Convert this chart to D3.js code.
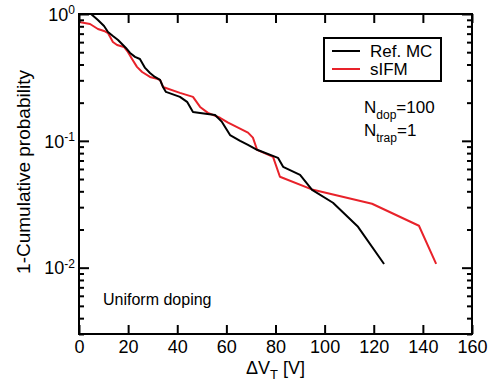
<!DOCTYPE html>
<html>
<head>
<meta charset="utf-8">
<script src="https://cdn.jsdelivr.net/npm/d3@7"></script>
<style>
  body { margin: 0; background: #fff; }
  text { font-family: "Liberation Sans", Arial, Helvetica, sans-serif; }
</style>
</head>
<body>
<div id="chart"></div>
<script>
// Ref. MC curve (deltaVT [V], 1-cumulative probability)
const refMcX = [4.9, 7.7, 10.2, 11.8, 13.8, 15.9, 17.5, 19.1, 20.8, 22.8, 24.8, 26.9, 28.9, 30.9, 33.0, 34.2, 35.4,
  41.1, 44.0, 46.4, 49.3, 55.4, 58.2, 61.5, 65.6, 68.8, 72.5, 81.0, 83.1, 90.0, 94.9, 103.4, 113.6, 124.2];
const refMcY = [1.0, 0.897, 0.804, 0.722, 0.671, 0.624, 0.580, 0.540, 0.493, 0.459, 0.442, 0.376, 0.343, 0.319, 0.302, 0.266, 0.243,
  0.222, 0.203, 0.169, 0.166, 0.160, 0.141, 0.111, 0.100, 0.093, 0.085, 0.0734, 0.0624, 0.054, 0.0411, 0.0325, 0.0210, 0.0107];

// sIFM curve
const sifmX = [0, 4.5, 7.7, 10.2, 11.8, 13.8, 15.5, 18.3, 19.9, 21.6, 23.6, 25.7, 28.9, 31.8, 33.0, 34.2, 41.1, 46.4, 49.3,
  52.5, 57.4, 60.7, 68.8, 70.8, 72.5, 79.0, 81.8, 95.3, 119.3, 138.4, 145.4];
const sifmY = [0.865, 0.834, 0.762, 0.735, 0.708, 0.602, 0.570, 0.550, 0.502, 0.442, 0.383, 0.349, 0.319, 0.308, 0.302, 0.266, 0.239, 0.222, 0.185,
  0.166, 0.152, 0.139, 0.116, 0.106, 0.085, 0.0748, 0.0521, 0.0411, 0.0319, 0.0214, 0.0107];

const xTicks = [0, 20, 40, 60, 80, 100, 120, 140, 160];
const yMajorTicks = [0.01, 0.1, 1];
const yMajorLabels = ["-2", "-1", "0"];
const seriesNames = ["Ref. MC", "sIFM"];
const seriesColors = ["#000000", "#e8222a"];

const width = 499, height = 383;
const margin = { top: 14, right: 27, bottom: 49, left: 79 };
const innerW = width - margin.left - margin.right;
const innerH = height - margin.top - margin.bottom;

const svg = d3.select("#chart").append("svg")
  .attr("width", width)
  .attr("height", height);

const g = svg.append("g")
  .attr("transform", `translate(${margin.left},${margin.top})`);

const x = d3.scaleLinear().domain([0, 160]).range([0, innerW]);
const y = d3.scaleLog().domain([0.003, 1]).range([innerH, 0]);

const allYTicks = y.ticks().filter(t => t >= 0.003 && t <= 1);
const minorY = allYTicks.filter(t => !yMajorTicks.some(m => Math.abs(m - t) / m < 1e-6));

g.append("defs").append("clipPath").attr("id", "clip")
  .append("rect").attr("width", innerW).attr("height", innerH);

// curves
const line = d3.line().x(d => x(d[0])).y(d => y(d[1]));
const series = [
  d3.zip(refMcX, refMcY),
  d3.zip(sifmX, sifmY)
];
// red drawn first, black on top
[1, 0].forEach(i => {
  g.append("path")
    .datum(series[i])
    .attr("clip-path", "url(#clip)")
    .attr("fill", "none")
    .attr("stroke", seriesColors[i])
    .attr("stroke-width", 2)
    .attr("stroke-linejoin", "round")
    .attr("d", line);
});

// axes, ticks inward
const tickStyle = sel => {
  sel.select(".domain").remove();
  sel.selectAll(".tick line").attr("stroke", "#000").attr("stroke-width", 2);
  sel.selectAll(".tick text").attr("fill", "#000").style("font-size", "18px");
};

g.append("g")
  .attr("transform", `translate(0,${innerH})`)
  .call(d3.axisBottom(x).tickValues(xTicks).tickSize(-9).tickPadding(6))
  .call(tickStyle);

g.append("g")
  .call(d3.axisTop(x).tickValues(xTicks).tickSize(-9).tickFormat(""))
  .call(tickStyle);

// y major
const leftAxis = g.append("g")
  .call(d3.axisLeft(y).tickValues(yMajorTicks).tickSize(-10).tickPadding(4).tickFormat(""))
  .call(tickStyle);

leftAxis.selectAll(".tick text")
  .each(function(d, i) {
    const t = d3.select(this).attr("dy", "0.35em");
    t.append("tspan").text("10");
    t.append("tspan").attr("dy", "-0.55em").style("font-size", "12px").text(yMajorLabels[i]);
  });

g.append("g")
  .call(d3.axisLeft(y).tickValues(minorY).tickSize(-5).tickFormat(""))
  .call(tickStyle);

g.append("g")
  .attr("transform", `translate(${innerW},0)`)
  .call(d3.axisRight(y).tickValues(yMajorTicks).tickSize(-10).tickFormat(""))
  .call(tickStyle);

g.append("g")
  .attr("transform", `translate(${innerW},0)`)
  .call(d3.axisRight(y).tickValues(minorY).tickSize(-5).tickFormat(""))
  .call(tickStyle);

// frame
g.append("rect")
  .attr("width", innerW).attr("height", innerH)
  .attr("fill", "none").attr("stroke", "#000").attr("stroke-width", 2);

// axis titles
svg.append("text")
  .attr("transform", "translate(30,172) rotate(-90)")
  .attr("text-anchor", "middle")
  .style("font-size", "19px")
  .text("1-Cumulative probability");

const xt = svg.append("text")
  .attr("x", margin.left + innerW / 2)
  .attr("y", 374)
  .attr("text-anchor", "middle")
  .style("font-size", "18px");
xt.append("tspan").text("\u0394V");
xt.append("tspan").attr("dy", 5).style("font-size", "13px").text("T");
xt.append("tspan").attr("dy", -5).text(" [V]");

// legend
const leg = svg.append("g").attr("transform", "translate(324,38)");
leg.append("rect").attr("width", 117).attr("height", 43)
  .attr("fill", "#fff").attr("stroke", "#000").attr("stroke-width", 2);
seriesNames.forEach((name, i) => {
  const yy = 13 + i * 18;
  leg.append("line").attr("x1", 8).attr("x2", 36).attr("y1", yy).attr("y2", yy)
    .attr("stroke", seriesColors[i]).attr("stroke-width", 2);
  leg.append("text").attr("x", 46).attr("y", yy + 6)
    .style("font-size", "17px").text(name);
});

// annotations
const n1 = svg.append("text").attr("x", 364).attr("y", 113).style("font-size", "17px");
n1.append("tspan").text("N");
n1.append("tspan").attr("dy", 6).style("font-size", "12px").text("dop");
n1.append("tspan").attr("dy", -6).text("=100");

const n2 = svg.append("text").attr("x", 364).attr("y", 136).style("font-size", "17px");
n2.append("tspan").text("N");
n2.append("tspan").attr("dy", 6).style("font-size", "12px").text("trap");
n2.append("tspan").attr("dy", -6).text("=1");

svg.append("text").attr("x", 103).attr("y", 305)
  .style("font-size", "16px").text("Uniform doping");
</script>
</body>
</html>
